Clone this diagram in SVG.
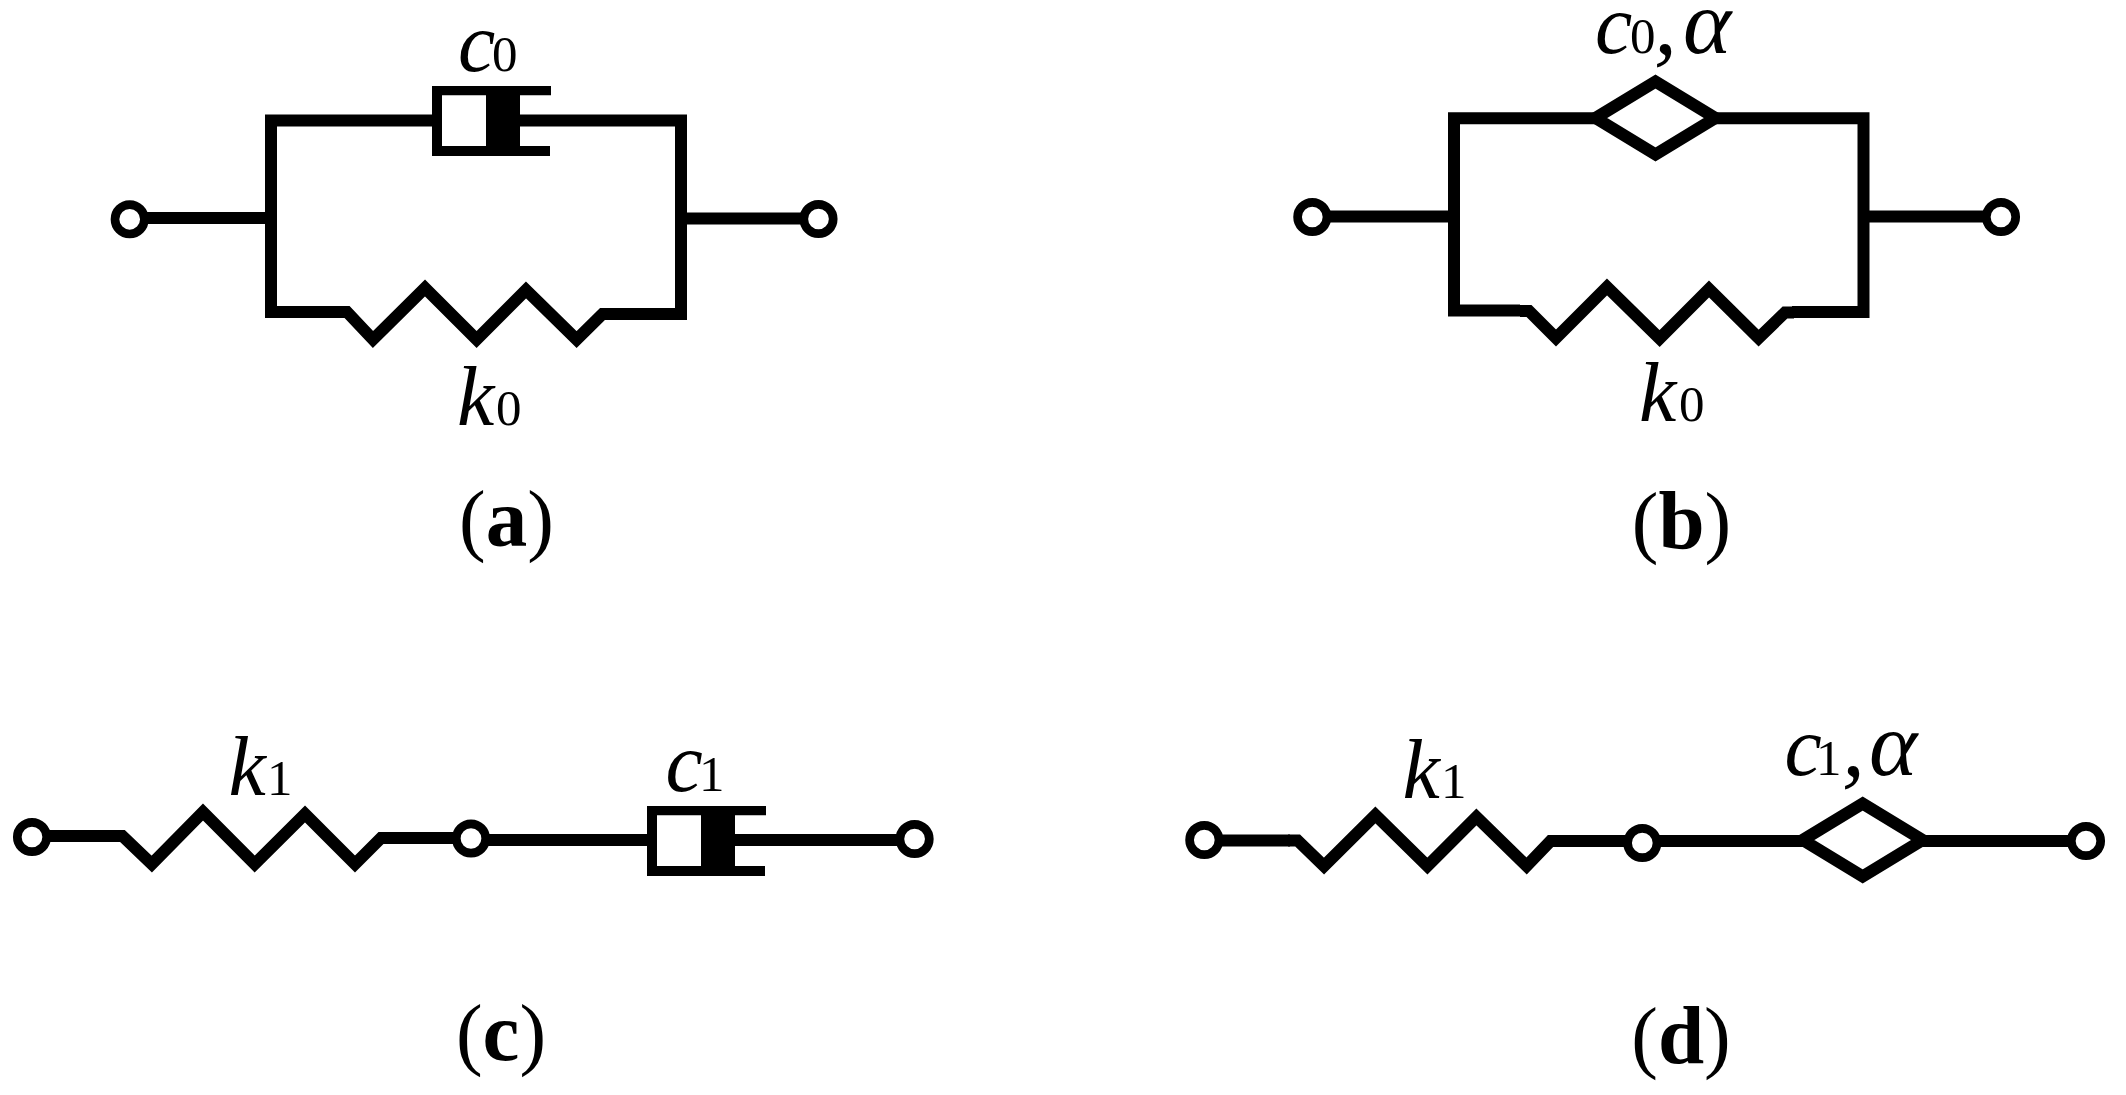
<svg xmlns="http://www.w3.org/2000/svg" width="2126" height="1095" viewBox="0 0 2126 1095">
<style>
.w{fill:none;stroke:#000;stroke-width:12;stroke-linejoin:miter;stroke-miterlimit:10}
.t{fill:#fff;stroke:#000;stroke-width:8.7}
.d{fill:#fff;stroke:#000;stroke-width:12;stroke-miterlimit:10}
text{font-family:"Liberation Serif","Times New Roman",serif;fill:#000}
.l{font-size:84px;font-style:italic}
.n{font-size:51px;font-style:normal}
.g{font-size:92px}
.c{font-size:80px}
.c tspan{font-weight:bold;font-size:83px}
</style>
<defs>
<path id="damper" d="M0 0H119V9.300H88V60H118V70H0ZM10 9.300V60H54V9.300Z" fill="#000" fill-rule="evenodd"/>
</defs>
<rect width="2126" height="1095" fill="#fff"/>
<g id="connectors">
<path class="w" d="M433 120.500H271V312H340"/>
<path class="w" d="M520 120.500H681V314H610"/>
<path class="w" d="M135 218H271M681 218.500H812"/>
<path class="w" d="M1596 118.300H1454V310.500H1520"/>
<path class="w" d="M1716 118.300H1863.500V312H1792"/>
<path class="w" d="M1318 216.500H1454M1863.500 216.500H1995"/>
<path class="w" d="M38 836H115M388 838H471M471 840H648M733 840H908"/>
<path class="w" d="M1210 840.500H1290M1557 841H1803M1923 841H2080"/>
</g>
<g id="spring-a"><path class="w" d="M338 312H347L373 339.500L425 288L476.600 339.500L526 290L576.600 339.500L602.500 314H612"/></g>
<g id="spring-b"><path class="w" d="M1520 311H1529L1556 338L1607 287L1659.600 338.500L1709 289L1758.600 338L1785 312.500H1794"/></g>
<g id="spring-c"><path class="w" d="M113 836H122.400L151.800 864L203 812L254.700 864L305 814L355 864L381 838H390"/></g>
<g id="spring-d"><path class="w" d="M1288 840.500H1297.600L1324 866L1375.400 815L1427.400 866L1476.400 817L1526.600 866L1550.500 841H1559"/></g>
<g id="damper-a"><use href="#damper" x="432" y="86"/></g>
<g id="damper-c"><use href="#damper" x="647" y="806"/></g>
<g id="fractional-b"><path class="d" d="M1595.500 118L1655.500 81.500L1715.500 118L1655.500 154.500Z"/></g>
<g id="fractional-d"><path class="d" d="M1802.700 840L1862.700 803.500L1922.700 840L1862.700 876.500Z"/></g>
<g id="terminals-a"><circle class="t" cx="129.700" cy="219.300" r="14.700"/><circle class="t" cx="818.500" cy="219" r="14.700"/></g>
<g id="terminals-b"><circle class="t" cx="1312.300" cy="217" r="14.700"/><circle class="t" cx="2001" cy="217" r="14.700"/></g>
<g id="terminals-c"><circle class="t" cx="32" cy="837" r="14.700"/><circle class="t" cx="471" cy="838.500" r="14.700"/><circle class="t" cx="914.600" cy="839" r="14.700"/></g>
<g id="terminals-d"><circle class="t" cx="1204.300" cy="840" r="14.700"/><circle class="t" cx="1642.300" cy="843" r="14.700"/><circle class="t" cx="2086" cy="841" r="14.700"/></g>
<g id="labels">
<text class="l" x="458" y="70.500">c<tspan class="n" x="492">0</tspan></text>
<text class="l" x="457" y="425">k<tspan class="n" x="496">0</tspan></text>
<text class="c" x="506.500" y="546" text-anchor="middle">(<tspan>a</tspan>)</text>
<text class="l" x="1595" y="53.300">c<tspan class="n" x="1630">0</tspan><tspan class="g" x="1654">,</tspan><tspan class="g" x="1683">α</tspan></text>
<text class="l" x="1639" y="421">k<tspan class="n" x="1679">0</tspan></text>
<text class="c" x="1681.500" y="548" text-anchor="middle">(<tspan>b</tspan>)</text>
<text class="l" x="228.600" y="795">k<tspan class="n" x="267">1</tspan></text>
<text class="l" x="665.500" y="790.500">c<tspan class="n" x="699">1</tspan></text>
<text class="c" x="501" y="1060" text-anchor="middle">(<tspan>c</tspan>)</text>
<text class="l" x="1402.600" y="798">k<tspan class="n" x="1441">1</tspan></text>
<text class="l" x="1784.400" y="775">c<tspan class="n" x="1816">1</tspan><tspan class="g" x="1842">,</tspan><tspan class="g" x="1869">α</tspan></text>
<text class="c" x="1681" y="1063" text-anchor="middle">(<tspan>d</tspan>)</text>
</g>
</svg>
